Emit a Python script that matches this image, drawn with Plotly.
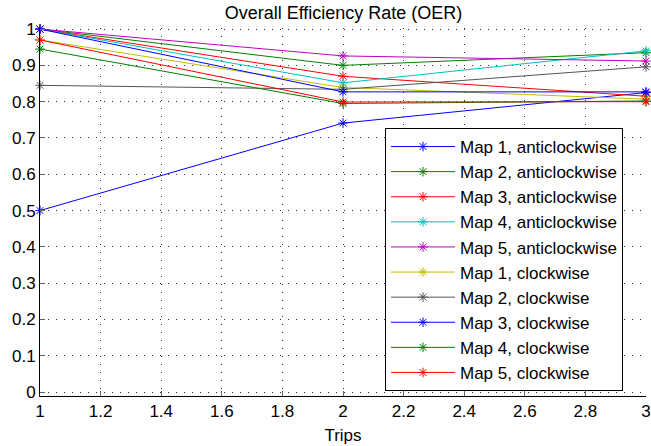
import plotly.graph_objects as go

trips = [1, 2, 3]
x_ticks = [1, 1.2, 1.4, 1.6, 1.8, 2, 2.2, 2.4, 2.6, 2.8, 3]
y_ticks = [0, 0.1, 0.2, 0.3, 0.4, 0.5, 0.6, 0.7, 0.8, 0.9, 1]
series_names = [
    "Map 1, anticlockwise", "Map 2, anticlockwise", "Map 3, anticlockwise",
    "Map 4, anticlockwise", "Map 5, anticlockwise",
    "Map 1, clockwise", "Map 2, clockwise", "Map 3, clockwise",
    "Map 4, clockwise", "Map 5, clockwise",
]
map1_anti = [0.500, 0.741, 0.825]
map2_anti = [1.000, 0.900, 0.935]
map3_anti = [1.000, 0.870, 0.815]
map4_anti = [1.000, 0.852, 0.940]
map5_anti = [1.000, 0.926, 0.912]
map1_clock = [0.970, 0.839, 0.807]
map2_clock = [0.845, 0.834, 0.896]
map3_clock = [1.000, 0.827, 0.827]
map4_clock = [0.945, 0.795, 0.802]
map5_clock = [0.970, 0.799, 0.800]
all_values = [map1_anti, map2_anti, map3_anti, map4_anti, map5_anti,
              map1_clock, map2_clock, map3_clock, map4_clock, map5_clock]
colors = ["#0000ff", "#008000", "#ff0000", "#00bfbf", "#bf00bf",
          "#bfbf00", "#555555", "#0000ff", "#008000", "#ff0000"]

FONT = "Liberation Sans, Arial, Helvetica, sans-serif"

fig = go.Figure()
for name, vals, col in zip(series_names, all_values, colors):
    fig.add_trace(go.Scatter(
        x=trips, y=vals, name=name, mode="lines+markers",
        line=dict(color=col, width=1),
        marker=dict(symbol="asterisk-open", size=8, color=col,
                    line=dict(color=col, width=1)),
        cliponaxis=False,
    ))

fig.update_layout(
    width=651, height=446,
    margin=dict(l=40, r=5, t=28, b=50),
    paper_bgcolor="white", plot_bgcolor="white",
    font=dict(family=FONT, size=17, color="black"),
    title=dict(text="Overall Efficiency Rate (OER)", x=(343.5) / 651,
               xanchor="center", y=1 - 13 / 446, yanchor="middle",
               font=dict(family=FONT, size=18, color="black")),
    legend=dict(x=(385 - 40) / 606, y=(396 - 128) / 368,
                xanchor="left", yanchor="top",
                bgcolor="white", bordercolor="black", borderwidth=1,
                font=dict(family=FONT, size=17, color="black"),
                itemwidth=64, tracegroupgap=0),
    showlegend=True,
)
fig.update_xaxes(
    range=[1, 3], tickvals=x_ticks, ticktext=[f"{v:g}" for v in x_ticks],
    ticklabeloverflow="allow",
    showgrid=True, gridcolor="#333333", griddash="1px,7px", gridwidth=1,
    showline=True, linecolor="black", linewidth=1,
    ticks="inside", ticklen=5, tickcolor="#666666",
    zeroline=False, automargin=False,
    title=dict(text="Trips", standoff=8, font=dict(family=FONT, size=17)),
    tickfont=dict(family=FONT, size=17),
)
fig.update_yaxes(
    range=[-0.011, 1.003], tickvals=y_ticks, ticktext=[f"{v:g}" for v in y_ticks],
    ticklabeloverflow="allow",
    showgrid=True, gridcolor="#333333", griddash="1px,7px", gridwidth=1,
    showline=True, linecolor="black", linewidth=1,
    ticks="inside", ticklen=5, tickcolor="#666666",
    zeroline=False, automargin=False,
    tickfont=dict(family=FONT, size=17),
)

fig.write_html("out.html",
               config={"displayModeBar": False},
               post_script="document.body.style.margin='0';"
                           "document.body.style.overflow='hidden';")
